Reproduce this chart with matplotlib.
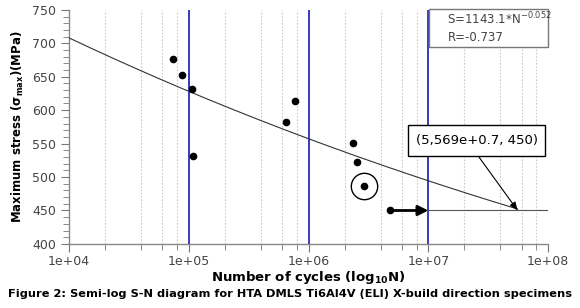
#!/usr/bin/env python3

'''
plot.py
  Semi-log S-N diagram for HTA DMLS Ti6Al4V (ELI) X-build specimens.
  Draws the test points, the power-law fit, the run-out arrow and
  the annotation boxes, then saves the figure as out.png.
'''

#
#   Packages and modules
#
import matplotlib
matplotlib.use('Agg')
from matplotlib import pyplot as plt
from matplotlib.patches import Rectangle
from matplotlib.ticker import LogLocator, MultipleLocator, FixedLocator
import numpy as np


#
#   Data
#
cycles = [7.36e4, 8.79e4, 1.07e5, 1.09e5, 6.47e5, 7.75e5,
          2.37e6, 2.53e6, 2.89e6]
stress = [677, 652, 631, 532, 582, 614, 551, 522, 487]

# circled specimen
circled_cycles = [2.89e6]
circled_stress = [487]

# run-out specimen and arrow end
runout_cycles = [4.8e6, 1e7]
runout_stress = [450, 450]

# endurance level line
limit_cycles = [4.8e6, 1e8]
limit_stress = [450, 450]

# fitted power law S = A * N^b
fit_a = 1143.1
fit_b = -0.052
fit_range = [1e4, 5.569e7]
fit_label = 'S=1143.1*N$^{\\mathregular{-0.052}}$\nR=-0.737'

# decades marked with blue lines
decades = [1e5, 1e6, 1e7]

note_text = '(5,569e+0.7, 450)'
note_point = (5.569e7, 450)

x_ticks = [1e4, 1e5, 1e6, 1e7, 1e8]
x_tick_labels = ['1e+04', '1e+05', '1e+06', '1e+07', '1e+08']

caption = ('Figure 2: Semi-log S-N diagram for HTA DMLS Ti6Al4V (ELI) '
           'X-build direction specimens')


def main():
    '''
    Build the S-N figure and write it to out.png.
    '''
    fig = plt.figure(figsize=(5.8, 3.08), dpi=100)
    ax = fig.add_axes([0.119, 0.208, 0.826, 0.760])

    ax.set_xscale('log')
    ax.set_xlim(1e4, 1e8)
    ax.set_ylim(400, 750)

    # dotted minor grid at 2,4,6,8 x decade
    ax.xaxis.set_minor_locator(LogLocator(base=10, subs=[2, 4, 6, 8]))
    ax.grid(True, which='minor', axis='x', color='#cccccc',
            linestyle=(0, (1.5, 1.5)), linewidth=0.8)

    # blue decade lines
    for d in decades:
        ax.axvline(d, color='#2a2ab8', linewidth=1.3, zorder=2)

    # fitted curve
    n = np.logspace(np.log10(fit_range[0]), np.log10(fit_range[1]), 200)
    ax.plot(n, fit_a * n ** fit_b, color='#333333', linewidth=0.8,
            zorder=3)

    # endurance line
    ax.plot(limit_cycles, limit_stress, color='#555555', linewidth=0.8,
            zorder=3)

    # test points
    ax.plot(cycles, stress, 'o', color='black', markersize=4.5, zorder=4)
    ax.plot(circled_cycles, circled_stress, 'o', markerfacecolor='none',
            markeredgecolor='black', markersize=19, markeredgewidth=1.0,
            zorder=4)

    # run-out point with arrow
    ax.plot(runout_cycles[:1], runout_stress[:1], 'o', color='black',
            markersize=4.5, zorder=4)
    ax.annotate('', xy=(runout_cycles[1], runout_stress[1]),
                xytext=(runout_cycles[0], runout_stress[0]),
                arrowprops=dict(arrowstyle='-|>,head_length=0.6,head_width=0.3',
                                color='black', lw=2.0,
                                shrinkA=0, shrinkB=0),
                zorder=5)

    # equation box in the upper right
    ax.add_patch(Rectangle((0.7516, 0.842), 0.2484, 0.162,
                           transform=ax.transAxes, facecolor='white',
                           edgecolor='#777777', linewidth=1.0,
                           clip_on=False, zorder=6))
    ax.text(0.79, 0.925, fit_label, transform=ax.transAxes,
            fontsize=8.5, color='#444444', va='center', ha='left',
            linespacing=1.3, zorder=7)

    # note box with arrow to the 450 MPa crossing
    ax.add_patch(Rectangle((0.7077, 0.376), 0.286, 0.1325,
                           transform=ax.transAxes, facecolor='white',
                           edgecolor='black', linewidth=1.0, zorder=6))
    ax.text(0.8507, 0.442, note_text, transform=ax.transAxes,
            fontsize=9.5, color='black', va='center', ha='center',
            zorder=7)
    ax.annotate('', xy=note_point, xycoords='data',
                xytext=(0.854, 0.376), textcoords='axes fraction',
                arrowprops=dict(arrowstyle='-|>,head_length=0.5,head_width=0.2',
                                color='black', lw=0.8,
                                shrinkA=0, shrinkB=0),
                zorder=5)

    # axes styling
    for side in ['top', 'right']:
        ax.spines[side].set_visible(False)
    for side in ['left', 'bottom']:
        ax.spines[side].set_color('#888888')
        ax.spines[side].set_linewidth(1.0)

    ax.xaxis.set_major_locator(FixedLocator(x_ticks))
    ax.set_xticklabels(x_tick_labels)
    ax.yaxis.set_major_locator(MultipleLocator(50))
    ax.yaxis.set_minor_locator(MultipleLocator(10))
    ax.tick_params(which='major', direction='out', length=6,
                   color='#777777', labelsize=9, labelcolor='#444444')
    ax.tick_params(which='minor', direction='out', length=4,
                   color='#777777')
    ax.tick_params(axis='x', which='major', pad=2)

    ax.set_xlabel(r'Number of cycles (log$_\mathbf{10}$N)',
                  fontsize=9.5, fontweight='bold', labelpad=1)
    ax.set_ylabel(r'Maximum stress ($\mathbf{\sigma_{max}}$)(MPa)',
                  fontsize=8.5, fontweight='bold', labelpad=4)

    fig.text(0.5, 1 - 294 / 308, caption, ha='center', va='center',
             fontsize=8.2, fontweight='bold')

    fig.savefig('out.png', dpi=100)
    plt.close(fig)


if __name__ == '__main__':
    main()
